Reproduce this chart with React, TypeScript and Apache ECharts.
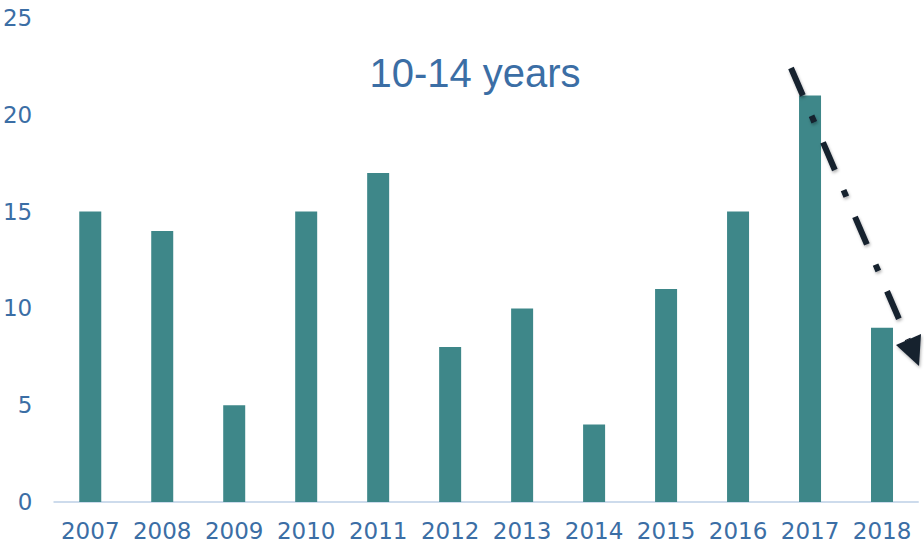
import React, { useEffect, useRef } from "react";
import * as echarts from "echarts";

const years = ["2007", "2008", "2009", "2010", "2011", "2012", "2013", "2014", "2015", "2016", "2017", "2018"];
const values = [15, 14, 5, 15, 17, 8, 10, 4, 11, 15, 21, 9];
const titleText = "10-14 years";

export default function App() {
  const ref = useRef<HTMLDivElement>(null);
  useEffect(() => {
    document.body.style.margin = "0";
    const chart = echarts.init(ref.current!, null, { renderer: "svg" });
    const labelColor = "#3b6ea5";
    chart.setOption({
      animation: false,
      backgroundColor: "#ffffff",
      title: {
        text: titleText,
        left: 470,
        top: 48,
        textAlign: "center",
        textStyle: { fontFamily: "Liberation Sans", fontSize: 40, fontWeight: "normal", color: labelColor },
      },
      grid: { left: 54, right: 6, top: 18, bottom: 54 },
      xAxis: {
        type: "category",
        data: years,
        axisLine: { show: true, lineStyle: { color: "#cddbec", width: 2 } },
        axisTick: { show: false },
        axisLabel: { interval: 0, hideOverlap: false, fontFamily: "DejaVu Sans", fontSize: 23, color: labelColor, margin: 17 },
      },
      yAxis: {
        type: "value",
        min: 0,
        max: 25,
        interval: 5,
        splitLine: { show: false },
        axisLine: { show: false },
        axisTick: { show: false },
        axisLabel: { fontFamily: "DejaVu Sans", fontSize: 23, color: labelColor, margin: 22 },
      },
      series: [
        {
          type: "bar",
          data: values,
          barWidth: 22,
          itemStyle: { color: "#3e8789" },
        },
      ],
      graphic: [
        {
          type: "line",
          shape: { x1: 791, y1: 68, x2: 908, y2: 340 },
          style: {
            stroke: "#14202e",
            lineWidth: 6,
            lineDash: [30, 22, 7, 22],
            shadowBlur: 3,
            shadowColor: "rgba(0,0,0,0.3)",
            shadowOffsetX: 1,
            shadowOffsetY: 2,
          },
          z: 100,
        },
        {
          type: "polygon",
          shape: { points: [[921, 334], [896, 345], [919, 366]] },
          style: { fill: "#14202e", shadowBlur: 3, shadowColor: "rgba(0,0,0,0.3)", shadowOffsetX: 1, shadowOffsetY: 2 },
          z: 100,
        },
      ],
    });
    return () => chart.dispose();
  }, []);
  return <div ref={ref} style={{ position: "fixed", left: 0, top: 0, width: 924, height: 556 }} />;
}
